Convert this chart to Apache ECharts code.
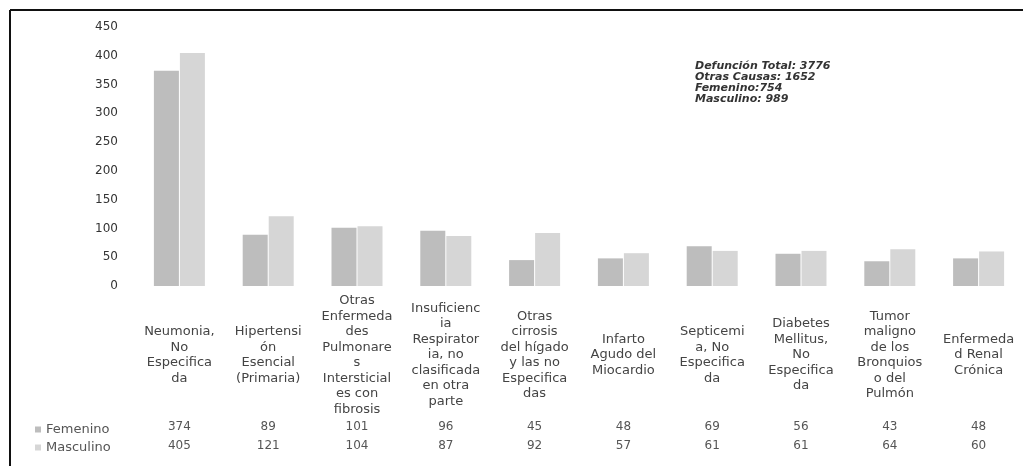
<!DOCTYPE html>
<html>
<head>
<meta charset="utf-8">
<script src="https://cdn.jsdelivr.net/npm/echarts@6/dist/echarts.min.js"></script>
<style>
  html, body { margin: 0; padding: 0; background: #fff; }
  #chart { width: 1023px; height: 466px; }
</style>
</head>
<body>
<div id="chart"></div>
<script>
// ---- Data ----
const categories = [
  "Neumonia,\nNo\nEspecifica\nda",
  "Hipertensi\nón\nEsencial\n(Primaria)",
  "Otras\nEnfermeda\ndes\nPulmonare\ns\nIntersticial\nes con\nfibrosis",
  "Insuficienc\nia\nRespirator\nia, no\nclasificada\nen otra\nparte",
  "Otras\ncirrosis\ndel hígado\ny las no\nEspecifica\ndas",
  "Infarto\nAgudo del\nMiocardio",
  "Septicemi\na, No\nEspecifica\nda",
  "Diabetes\nMellitus,\nNo\nEspecifica\nda",
  "Tumor\nmaligno\nde los\nBronquios\no del\nPulmón",
  "Enfermeda\nd Renal\nCrónica"
];
const femenino = [374, 89, 101, 96, 45, 48, 69, 56, 43, 48];
const masculino = [405, 121, 104, 87, 92, 57, 61, 61, 64, 60];
const seriesNames = ["Femenino", "Masculino"];
const yTicks = { min: 0, max: 450, interval: 50 };
const noteLines = [
  "Defunción Total: 3776",
  "Otras Causas: 1652",
  "Femenino:754",
  "Masculino: 989"
];

// ---- Chart ----
const chart = echarts.init(document.getElementById('chart'), null, { renderer: 'canvas' });
const FONT = "'DejaVu Sans', sans-serif";

const hiddenAxisBase = {
  type: 'category',
  position: 'bottom',
  axisLine: { show: false },
  axisTick: { show: false },
  splitLine: { show: false }
};

const option = {
  backgroundColor: '#ffffff',
  animation: false,
  grid: { left: 135, top: 27, width: 898, height: 259, containLabel: false },
  legend: {
    data: seriesNames,
    orient: 'vertical',
    left: 30,
    top: 418,
    itemWidth: 6,
    itemHeight: 6,
    itemGap: 5,
    icon: 'rect',
    textStyle: { fontFamily: FONT, fontSize: 13, color: '#555' }
  },
  xAxis: [
    Object.assign({}, hiddenAxisBase, {
      data: categories,
      axisLabel: {
        interval: 0,
        margin: 69,
        verticalAlign: 'middle',
        align: 'center',
        lineHeight: 15.5,
        fontFamily: FONT,
        fontSize: 13,
        color: '#444'
      }
    }),
    Object.assign({}, hiddenAxisBase, {
      data: femenino.map(String),
      axisLabel: {
        interval: 0, margin: 141, verticalAlign: 'middle',
        fontFamily: FONT, fontSize: 12, color: '#555'
      }
    }),
    Object.assign({}, hiddenAxisBase, {
      data: masculino.map(String),
      axisLabel: {
        interval: 0, margin: 160, verticalAlign: 'middle',
        fontFamily: FONT, fontSize: 12, color: '#555'
      }
    })
  ],
  yAxis: {
    type: 'value',
    min: yTicks.min,
    max: yTicks.max,
    interval: yTicks.interval,
    axisLine: { show: false },
    axisTick: { show: false },
    splitLine: { show: false },
    axisLabel: {
      margin: 17,
      fontFamily: FONT,
      fontSize: 12,
      color: '#333'
    }
  },
  series: [
    {
      name: seriesNames[0],
      type: 'bar',
      data: femenino,
      barWidth: 25,
      barGap: '4%',
      itemStyle: { color: '#bdbdbd' }
    },
    {
      name: seriesNames[1],
      type: 'bar',
      data: masculino,
      barWidth: 25,
      itemStyle: { color: '#d6d6d6' }
    }
  ],
  graphic: [
    {
      type: 'text',
      left: 695,
      top: 61,
      style: {
        text: noteLines.join('\n'),
        fontFamily: FONT,
        fontSize: 11,
        fontStyle: 'italic',
        fontWeight: 'bold',
        lineHeight: 11,
        fill: '#333'
      }
    },
    {
      type: 'line',
      shape: { x1: 10, y1: 10, x2: 1023, y2: 10 },
      style: { stroke: '#111', lineWidth: 2 }
    },
    {
      type: 'line',
      shape: { x1: 10, y1: 10, x2: 10, y2: 466 },
      style: { stroke: '#111', lineWidth: 2 }
    }
  ]
};

chart.setOption(option);
</script>
</body>
</html>
